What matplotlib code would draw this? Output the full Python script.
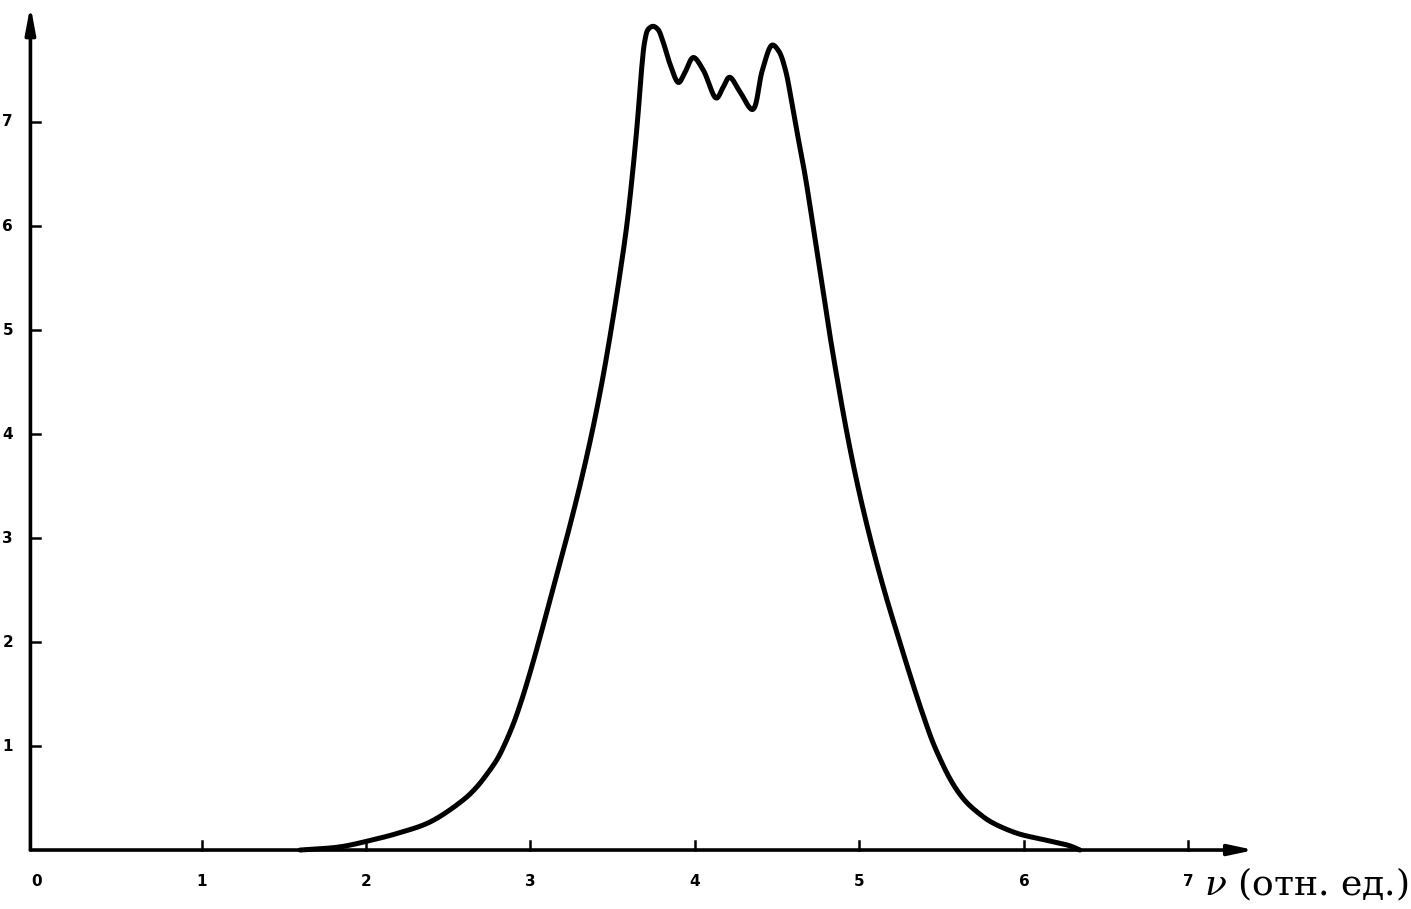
import numpy as np
import matplotlib
matplotlib.use("Agg")
import matplotlib.pyplot as plt

# Spectrum curve (relative frequency nu, intensity)
nu = [1.60, 1.84, 2.02, 2.19, 2.39, 2.59, 2.67, 2.74, 2.80, 2.85, 2.90, 2.95,
      3.00, 3.05, 3.135, 3.22, 3.30, 3.372, 3.435, 3.49, 3.54, 3.585, 3.62,
      3.65, 3.675, 3.695, 3.715, 3.745, 3.775, 3.80, 3.85, 3.90, 3.94, 3.99,
      4.05, 4.13, 4.17, 4.21, 4.27, 4.35, 4.41, 4.47, 4.51, 4.55, 4.585, 4.615,
      4.668, 4.718, 4.766, 4.815, 4.868, 4.925, 4.99, 5.065, 5.15, 5.245,
      5.34, 5.395, 5.445, 5.495, 5.545, 5.595, 5.65, 5.72, 5.80, 5.96, 6.12,
      6.28, 6.34]
intensity = [0.00, 0.03, 0.09, 0.16, 0.27, 0.48, 0.60, 0.74, 0.88, 1.04, 1.23, 1.46,
             1.72, 2.00, 2.50, 3.00, 3.50, 4.00, 4.50, 5.00, 5.50, 6.00, 6.50,
             7.00, 7.50, 7.78, 7.89, 7.92, 7.89, 7.80, 7.55, 7.38, 7.48, 7.62,
             7.50, 7.23, 7.33, 7.43, 7.30, 7.12, 7.50, 7.74, 7.68, 7.50, 7.22, 6.95,
             6.50, 6.00, 5.50, 5.00, 4.50, 4.00, 3.50, 3.00, 2.50, 2.00,
             1.52, 1.26, 1.04, 0.86, 0.70, 0.57, 0.46, 0.36, 0.27, 0.16, 0.10,
             0.04, 0.00]

x_ticks = [0, 1, 2, 3, 4, 5, 6, 7]
y_ticks = [1, 2, 3, 4, 5, 6, 7]
x_label = "$\\nu$ (отн. ед.)"

plt.rcParams['mathtext.fontset'] = 'dejavuserif'


def centripetal_cr(xs, ys, sx=164.5, sy=104.0, n=16):
    """Centripetal Catmull-Rom through the points (computed in scaled space)."""
    p = np.column_stack([np.asarray(xs) * sx, np.asarray(ys) * sy])
    p = np.vstack([2 * p[0] - p[1], p, 2 * p[-1] - p[-2]])
    out = []
    for i in range(1, len(p) - 2):
        P0, P1, P2, P3 = p[i - 1], p[i], p[i + 1], p[i + 2]
        t0 = 0.0
        t1 = t0 + np.linalg.norm(P1 - P0) ** 0.5
        t2 = t1 + np.linalg.norm(P2 - P1) ** 0.5
        t3 = t2 + np.linalg.norm(P3 - P2) ** 0.5
        t = np.linspace(t1, t2, n, endpoint=False)[:, None]
        A1 = (t1 - t) / (t1 - t0) * P0 + (t - t0) / (t1 - t0) * P1
        A2 = (t2 - t) / (t2 - t1) * P1 + (t - t1) / (t2 - t1) * P2
        A3 = (t3 - t) / (t3 - t2) * P2 + (t - t2) / (t3 - t2) * P3
        B1 = (t2 - t) / (t2 - t0) * A1 + (t - t0) / (t2 - t0) * A2
        B2 = (t3 - t) / (t3 - t1) * A2 + (t - t1) / (t3 - t1) * A3
        C = (t2 - t) / (t2 - t1) * B1 + (t - t1) / (t2 - t1) * B2
        out.append(C)
    out.append(p[-2][None, :])
    out = np.vstack(out)
    return out[:, 0] / sx, np.clip(out[:, 1] / sy, 0, None)


fig = plt.figure(figsize=(14.11, 9.09), dpi=100)
ax = fig.add_axes([0, 0, 1, 1])
ax.set_xlim(-0.225, 8.353)
ax.set_ylim(-0.567, 8.173)
ax.axis('off')

x0 = -0.04  # position of the vertical axis
ax.annotate("", xy=(7.40, 0.0), xytext=(x0, 0.0),
            arrowprops=dict(arrowstyle="-|>,head_length=1.5,head_width=0.32",
                            lw=2.6, color="black", shrinkA=0, shrinkB=0))
ax.annotate("", xy=(x0, 8.12), xytext=(x0, 0.0),
            arrowprops=dict(arrowstyle="-|>,head_length=1.6,head_width=0.3",
                            lw=2.6, color="black", shrinkA=0, shrinkB=0))

for t in x_ticks[1:]:
    ax.plot([t, t], [0, 0.09], color="black", lw=1.8)
for t in y_ticks:
    ax.plot([x0, x0 + 0.06], [t, t], color="black", lw=1.8)

for t in x_ticks:
    ax.text(t, -0.30, str(t), ha="center", va="center", fontsize=11,
            fontweight="bold", family="DejaVu Sans")
for t in y_ticks:
    ax.text(-0.178, t, str(t), ha="center", va="center", fontsize=11,
            fontweight="bold", family="DejaVu Sans")

ax.text(8.34, -0.33, x_label, ha="right", va="center", fontsize=26,
        family="DejaVu Serif")

cx, cy = centripetal_cr(nu, intensity)
ax.plot(cx, cy, color="black", lw=3.6, solid_joinstyle="round",
        solid_capstyle="round")

fig.savefig("out.png", dpi=100)
